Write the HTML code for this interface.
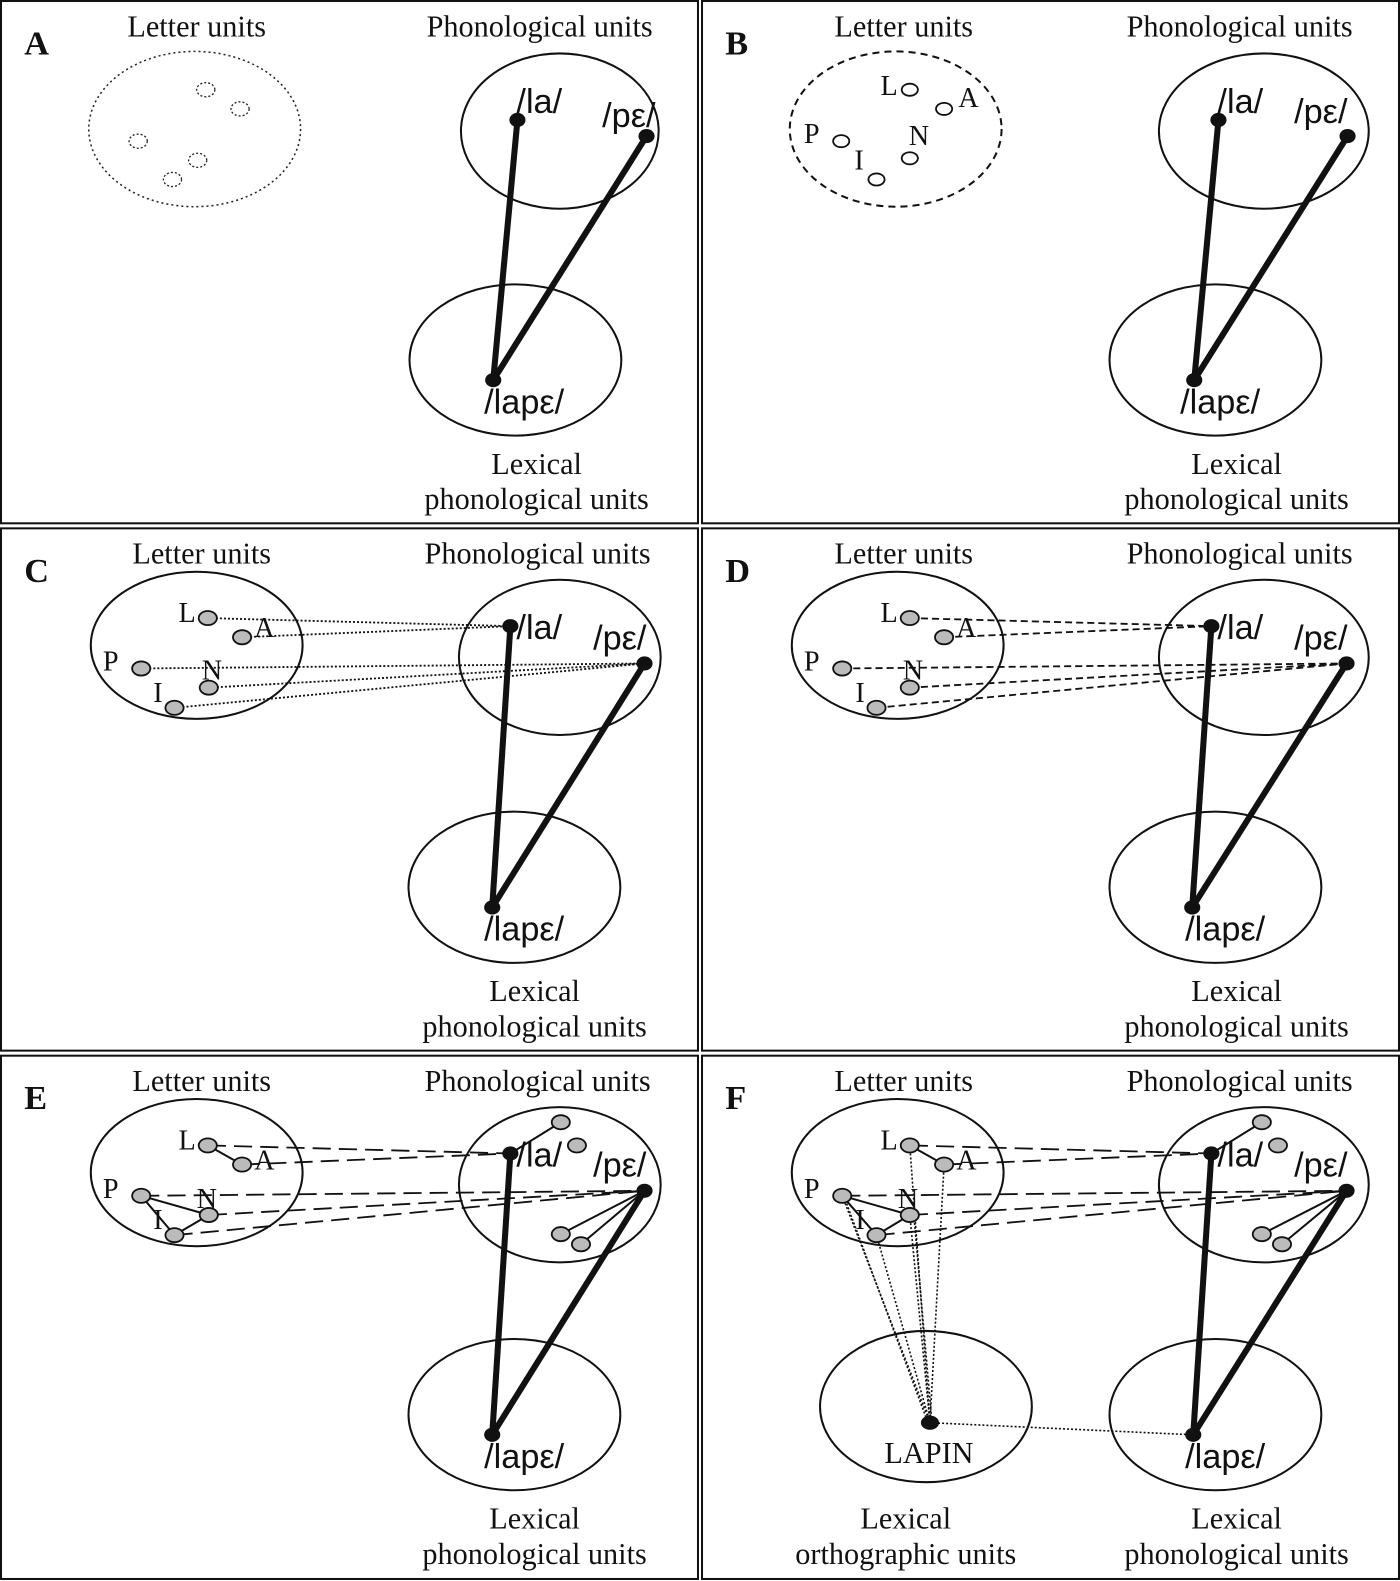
<!DOCTYPE html>
<html><head><meta charset="utf-8"><style>
html,body{margin:0;padding:0;background:#fff;}
svg{display:block;}
text{font-family:"Liberation Serif",serif;fill:#111;}
.h{font-size:30px;}
.b{font-size:34px;font-weight:bold;}
.ph{font-size:34px;font-family:"Liberation Sans",sans-serif;}
.lt{font-size:28px;}
</style></head><body>
<svg width="1400" height="1581" viewBox="0 0 1388 1568" preserveAspectRatio="none" xmlns="http://www.w3.org/2000/svg">
<g fill="none" stroke="#111" stroke-width="2">
<rect x="1" y="1" width="691" height="518"/>
<rect x="696" y="1" width="691" height="518"/>
<rect x="1" y="524" width="691" height="518"/>
<rect x="696" y="524" width="691" height="518"/>
<rect x="1" y="1047" width="691" height="519"/>
<rect x="696" y="1047" width="691" height="519"/>
</g>

<!-- ===== Panel A ===== -->
<g>
<text class="b" x="24" y="54">A</text>
<text class="h" x="195" y="36" text-anchor="middle">Letter units</text>
<text class="h" x="535" y="36" text-anchor="middle">Phonological units</text>
<ellipse cx="193" cy="128" rx="105" ry="77" fill="none" stroke="#222" stroke-width="1.5" stroke-dasharray="2,3"/>
<g fill="none" stroke="#222" stroke-width="1.3" stroke-dasharray="2,2">
<ellipse cx="204" cy="89" rx="9" ry="7"/><ellipse cx="238" cy="108" rx="9" ry="7"/>
<ellipse cx="137" cy="140" rx="9" ry="7"/><ellipse cx="196" cy="159" rx="9" ry="7"/>
<ellipse cx="171" cy="178" rx="9" ry="7"/>
</g>
<ellipse cx="555" cy="130" rx="98" ry="77" fill="none" stroke="#111" stroke-width="2"/>
<ellipse cx="511" cy="357" rx="105" ry="75" fill="none" stroke="#111" stroke-width="2"/>
<line x1="489" y1="377" x2="513" y2="119" stroke="#111" stroke-width="6"/>
<line x1="489" y1="377" x2="641" y2="135" stroke="#111" stroke-width="6"/>
<ellipse cx="513" cy="119" rx="8" ry="7" fill="#111"/><ellipse cx="641" cy="135" rx="8" ry="7" fill="#111"/><ellipse cx="489" cy="377" rx="8" ry="7" fill="#111"/>
<text class="ph" x="512" y="112">/la/</text><text class="ph" x="597" y="126">/pε/</text><text class="ph" x="480" y="410">/lapε/</text>
<text class="h" x="532" y="470" text-anchor="middle">Lexical</text>
<text class="h" x="532" y="505" text-anchor="middle">phonological units</text>
</g>

<!-- ===== Panel B ===== -->
<g>
<text class="b" x="719" y="54">B</text>
<text class="h" x="896" y="36" text-anchor="middle">Letter units</text>
<text class="h" x="1229" y="36" text-anchor="middle">Phonological units</text>
<ellipse cx="888" cy="128" rx="105" ry="77" fill="none" stroke="#111" stroke-width="2" stroke-dasharray="7,5"/>
<g fill="#fff" stroke="#111" stroke-width="1.8">
<ellipse cx="902" cy="89" rx="8" ry="6"/><ellipse cx="936" cy="108" rx="8" ry="6"/>
<ellipse cx="834" cy="140" rx="8" ry="6"/><ellipse cx="902" cy="157" rx="8" ry="6"/>
<ellipse cx="869" cy="178" rx="8" ry="6"/>
</g>
<text class="lt" x="873" y="94">L</text><text class="lt" x="950" y="106">A</text><text class="lt" x="797" y="142">P</text><text class="lt" x="847" y="168">I</text><text class="lt" x="901" y="144">N</text>
<ellipse cx="1253" cy="130" rx="104" ry="77" fill="none" stroke="#111" stroke-width="2"/>
<ellipse cx="1205" cy="357" rx="105" ry="75" fill="none" stroke="#111" stroke-width="2"/>
<line x1="1184" y1="377" x2="1208" y2="119" stroke="#111" stroke-width="6"/>
<line x1="1184" y1="377" x2="1336" y2="135" stroke="#111" stroke-width="6"/>
<ellipse cx="1208" cy="119" rx="8" ry="7" fill="#111"/><ellipse cx="1336" cy="135" rx="8" ry="7" fill="#111"/><ellipse cx="1184" cy="377" rx="8" ry="7" fill="#111"/>
<text class="ph" x="1207" y="112">/la/</text><text class="ph" x="1283" y="122">/pε/</text><text class="ph" x="1170" y="410">/lapε/</text>
<text class="h" x="1226" y="470" text-anchor="middle">Lexical</text>
<text class="h" x="1226" y="505" text-anchor="middle">phonological units</text>
</g>

<!-- ===== Panel C ===== -->
<g>
<text class="b" x="24" y="577">C</text>
<text class="h" x="200" y="559" text-anchor="middle">Letter units</text>
<text class="h" x="533" y="559" text-anchor="middle">Phonological units</text>
<ellipse cx="195" cy="640" rx="105" ry="73" fill="none" stroke="#111" stroke-width="2"/>
<ellipse cx="555" cy="652" rx="100" ry="77" fill="none" stroke="#111" stroke-width="2"/>
<ellipse cx="510" cy="880" rx="105" ry="75" fill="none" stroke="#111" stroke-width="2"/>
<g stroke="#111" stroke-width="1.8" stroke-dasharray="2,2">
<line x1="206" y1="613" x2="506" y2="621"/><line x1="240" y1="632" x2="506" y2="621"/>
<line x1="140" y1="663" x2="639" y2="658"/><line x1="207" y1="682" x2="639" y2="658"/><line x1="173" y1="702" x2="639" y2="658"/>
</g>
<line x1="488" y1="900" x2="506" y2="621" stroke="#111" stroke-width="6"/>
<line x1="488" y1="900" x2="639" y2="658" stroke="#111" stroke-width="6"/>
<ellipse cx="506" cy="621" rx="8" ry="7" fill="#111"/><ellipse cx="639" cy="658" rx="8" ry="7" fill="#111"/><ellipse cx="488" cy="900" rx="8" ry="7" fill="#111"/>
<g fill="#bbb" stroke="#111" stroke-width="1.8">
<ellipse cx="206" cy="613" rx="9" ry="7"/><ellipse cx="240" cy="632" rx="9" ry="7"/><ellipse cx="140" cy="663" rx="9" ry="7"/><ellipse cx="207" cy="682" rx="9" ry="7"/><ellipse cx="173" cy="702" rx="9" ry="7"/>
</g>
<text class="lt" x="177" y="617">L</text><text class="lt" x="252" y="632">A</text><text class="lt" x="102" y="665">P</text><text class="lt" x="152" y="696">I</text><text class="lt" x="200" y="674">N</text>
<text class="ph" x="512" y="634">/la/</text><text class="ph" x="588" y="644">/pε/</text><text class="ph" x="480" y="933">/lapε/</text>
<text class="h" x="530" y="993" text-anchor="middle">Lexical</text>
<text class="h" x="530" y="1028" text-anchor="middle">phonological units</text>
</g>

<!-- ===== Panel D ===== -->
<g>
<text class="b" x="719" y="577">D</text>
<text class="h" x="896" y="559" text-anchor="middle">Letter units</text>
<text class="h" x="1229" y="559" text-anchor="middle">Phonological units</text>
<ellipse cx="890" cy="640" rx="105" ry="73" fill="none" stroke="#111" stroke-width="2"/>
<ellipse cx="1253" cy="652" rx="104" ry="77" fill="none" stroke="#111" stroke-width="2"/>
<ellipse cx="1205" cy="880" rx="105" ry="75" fill="none" stroke="#111" stroke-width="2"/>
<g stroke="#111" stroke-width="1.8" stroke-dasharray="7,4">
<line x1="902" y1="613" x2="1201" y2="621"/><line x1="936" y1="632" x2="1201" y2="621"/>
<line x1="835" y1="663" x2="1335" y2="658"/><line x1="902" y1="682" x2="1335" y2="658"/><line x1="869" y1="702" x2="1335" y2="658"/>
</g>
<line x1="1182" y1="900" x2="1201" y2="621" stroke="#111" stroke-width="6"/>
<line x1="1182" y1="900" x2="1335" y2="658" stroke="#111" stroke-width="6"/>
<ellipse cx="1201" cy="621" rx="8" ry="7" fill="#111"/><ellipse cx="1335" cy="658" rx="8" ry="7" fill="#111"/><ellipse cx="1182" cy="900" rx="8" ry="7" fill="#111"/>
<g fill="#bbb" stroke="#111" stroke-width="1.8">
<ellipse cx="902" cy="613" rx="9" ry="7"/><ellipse cx="936" cy="632" rx="9" ry="7"/><ellipse cx="835" cy="663" rx="9" ry="7"/><ellipse cx="902" cy="682" rx="9" ry="7"/><ellipse cx="869" cy="702" rx="9" ry="7"/>
</g>
<text class="lt" x="873" y="617">L</text><text class="lt" x="948" y="632">A</text><text class="lt" x="797" y="665">P</text><text class="lt" x="848" y="696">I</text><text class="lt" x="895" y="674">N</text>
<text class="ph" x="1207" y="634">/la/</text><text class="ph" x="1283" y="644">/pε/</text><text class="ph" x="1175" y="933">/lapε/</text>
<text class="h" x="1226" y="993" text-anchor="middle">Lexical</text>
<text class="h" x="1226" y="1028" text-anchor="middle">phonological units</text>
</g>

<!-- ===== Panel E ===== -->
<g>
<text class="b" x="24" y="1100">E</text>
<text class="h" x="200" y="1082" text-anchor="middle">Letter units</text>
<text class="h" x="533" y="1082" text-anchor="middle">Phonological units</text>
<ellipse cx="195" cy="1163" rx="105" ry="73" fill="none" stroke="#111" stroke-width="2"/>
<ellipse cx="555" cy="1175" rx="100" ry="77" fill="none" stroke="#111" stroke-width="2"/>
<ellipse cx="510" cy="1403" rx="105" ry="75" fill="none" stroke="#111" stroke-width="2"/>
<g stroke="#111" stroke-width="1.8" stroke-dasharray="18,8">
<line x1="206" y1="1136" x2="506" y2="1144"/><line x1="240" y1="1155" x2="506" y2="1144"/>
<line x1="140" y1="1186" x2="639" y2="1181"/><line x1="207" y1="1205" x2="639" y2="1181"/><line x1="173" y1="1225" x2="639" y2="1181"/>
</g>
<g stroke="#111" stroke-width="2">
<line x1="206" y1="1136" x2="240" y2="1155"/><line x1="140" y1="1186" x2="207" y2="1205"/><line x1="140" y1="1186" x2="173" y2="1225"/><line x1="173" y1="1225" x2="207" y2="1205"/>
<line x1="506" y1="1144" x2="556" y2="1113"/><line x1="639" y1="1181" x2="556" y2="1224"/><line x1="639" y1="1181" x2="576" y2="1234"/>
</g>
<line x1="488" y1="1423" x2="506" y2="1144" stroke="#111" stroke-width="6"/>
<line x1="488" y1="1423" x2="639" y2="1181" stroke="#111" stroke-width="6"/>
<ellipse cx="506" cy="1144" rx="8" ry="7" fill="#111"/><ellipse cx="639" cy="1181" rx="8" ry="7" fill="#111"/><ellipse cx="488" cy="1423" rx="8" ry="7" fill="#111"/>
<g fill="#bbb" stroke="#111" stroke-width="1.8">
<ellipse cx="206" cy="1136" rx="9" ry="7"/><ellipse cx="240" cy="1155" rx="9" ry="7"/><ellipse cx="140" cy="1186" rx="9" ry="7"/><ellipse cx="207" cy="1205" rx="9" ry="7"/><ellipse cx="173" cy="1225" rx="9" ry="7"/>
<ellipse cx="556" cy="1113" rx="9" ry="7"/><ellipse cx="572" cy="1136" rx="9" ry="7"/><ellipse cx="556" cy="1224" rx="9" ry="7"/><ellipse cx="576" cy="1234" rx="9" ry="7"/>
</g>
<text class="lt" x="177" y="1140">L</text><text class="lt" x="252" y="1160">A</text><text class="lt" x="102" y="1188">P</text><text class="lt" x="152" y="1219">I</text><text class="lt" x="195" y="1198">N</text>
<text class="ph" x="512" y="1157">/la/</text><text class="ph" x="588" y="1167">/pε/</text><text class="ph" x="480" y="1456">/lapε/</text>
<text class="h" x="530" y="1516" text-anchor="middle">Lexical</text>
<text class="h" x="530" y="1551" text-anchor="middle">phonological units</text>
</g>

<!-- ===== Panel F ===== -->
<g>
<text class="b" x="719" y="1100">F</text>
<text class="h" x="896" y="1082" text-anchor="middle">Letter units</text>
<text class="h" x="1229" y="1082" text-anchor="middle">Phonological units</text>
<ellipse cx="890" cy="1163" rx="105" ry="73" fill="none" stroke="#111" stroke-width="2"/>
<ellipse cx="1253" cy="1175" rx="104" ry="77" fill="none" stroke="#111" stroke-width="2"/>
<ellipse cx="1205" cy="1403" rx="105" ry="75" fill="none" stroke="#111" stroke-width="2"/>
<ellipse cx="918" cy="1395" rx="105" ry="75" fill="none" stroke="#111" stroke-width="2"/>
<g stroke="#111" stroke-width="1.8" stroke-dasharray="18,8">
<line x1="902" y1="1136" x2="1201" y2="1144"/><line x1="936" y1="1155" x2="1201" y2="1144"/>
<line x1="835" y1="1186" x2="1335" y2="1181"/><line x1="902" y1="1205" x2="1335" y2="1181"/><line x1="869" y1="1225" x2="1335" y2="1181"/>
</g>
<g stroke="#111" stroke-width="1.6" stroke-dasharray="2,2">
<line x1="902" y1="1136" x2="922" y2="1411"/><line x1="936" y1="1155" x2="922" y2="1411"/><line x1="835" y1="1186" x2="922" y2="1411"/><line x1="838" y1="1190" x2="920" y2="1411"/><line x1="902" y1="1205" x2="922" y2="1411"/><line x1="906" y1="1205" x2="924" y2="1411"/><line x1="869" y1="1225" x2="922" y2="1411"/>
<line x1="922" y1="1411" x2="1183" y2="1423"/>
</g>
<g stroke="#111" stroke-width="2">
<line x1="902" y1="1136" x2="936" y2="1155"/><line x1="835" y1="1186" x2="902" y2="1205"/><line x1="835" y1="1186" x2="869" y2="1225"/><line x1="869" y1="1225" x2="902" y2="1205"/>
<line x1="1201" y1="1144" x2="1251" y2="1113"/><line x1="1335" y1="1181" x2="1251" y2="1224"/><line x1="1335" y1="1181" x2="1271" y2="1234"/>
</g>
<line x1="1183" y1="1423" x2="1201" y2="1144" stroke="#111" stroke-width="6"/>
<line x1="1183" y1="1423" x2="1335" y2="1181" stroke="#111" stroke-width="6"/>
<ellipse cx="1201" cy="1144" rx="8" ry="7" fill="#111"/><ellipse cx="1335" cy="1181" rx="8" ry="7" fill="#111"/><ellipse cx="1183" cy="1423" rx="8" ry="7" fill="#111"/><ellipse cx="922" cy="1411" rx="9" ry="7" fill="#111"/>
<g fill="#bbb" stroke="#111" stroke-width="1.8">
<ellipse cx="902" cy="1136" rx="9" ry="7"/><ellipse cx="936" cy="1155" rx="9" ry="7"/><ellipse cx="835" cy="1186" rx="9" ry="7"/><ellipse cx="902" cy="1205" rx="9" ry="7"/><ellipse cx="869" cy="1225" rx="9" ry="7"/>
<ellipse cx="1251" cy="1113" rx="9" ry="7"/><ellipse cx="1267" cy="1136" rx="9" ry="7"/><ellipse cx="1251" cy="1224" rx="9" ry="7"/><ellipse cx="1271" cy="1234" rx="9" ry="7"/>
</g>
<text class="lt" x="873" y="1140">L</text><text class="lt" x="948" y="1160">A</text><text class="lt" x="797" y="1188">P</text><text class="lt" x="848" y="1219">I</text><text class="lt" x="890" y="1198">N</text>
<text class="ph" x="1207" y="1157">/la/</text><text class="ph" x="1283" y="1167">/pε/</text><text class="ph" x="1175" y="1456">/lapε/</text>
<text class="h" x="921" y="1451" text-anchor="middle">LAPIN</text>
<text class="h" x="898" y="1516" text-anchor="middle">Lexical</text>
<text class="h" x="898" y="1551" text-anchor="middle">orthographic units</text>
<text class="h" x="1226" y="1516" text-anchor="middle">Lexical</text>
<text class="h" x="1226" y="1551" text-anchor="middle">phonological units</text>
</g>
</svg>
</body></html>
